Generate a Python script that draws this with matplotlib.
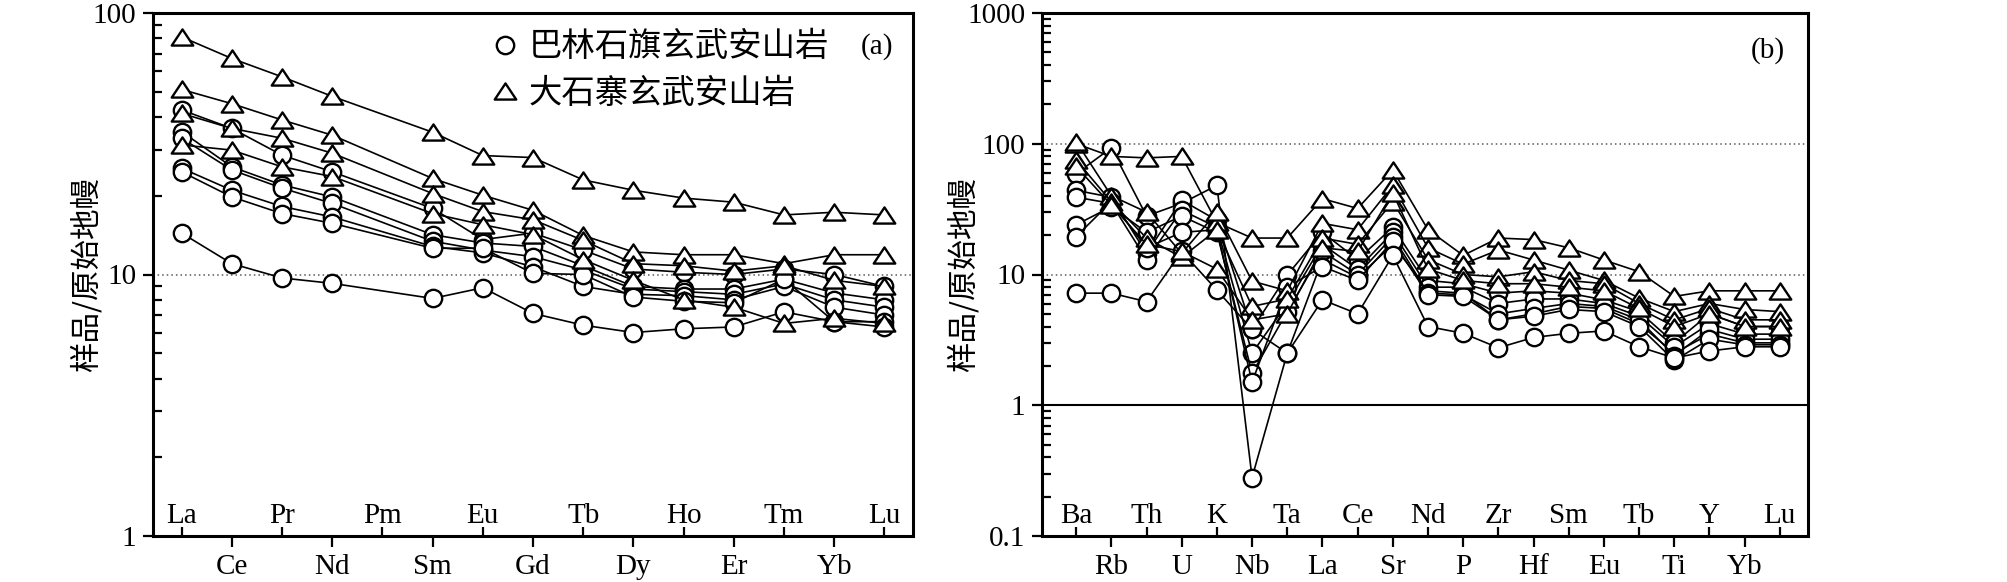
import numpy as np
import matplotlib.pyplot as plt
from matplotlib.path import Path
from matplotlib.lines import Line2D
from matplotlib.ticker import LogLocator, NullFormatter

plt.rcParams['font.family'] = ['Liberation Serif', 'Noto Sans CJK SC']

nan = np.nan

# ---- (a) chondrite-normalised REE ----
ree = ['La', 'Ce', 'Pr', 'Nd', 'Pm', 'Sm', 'Eu', 'Gd', 'Tb', 'Dy', 'Ho', 'Er', 'Tm', 'Yb', 'Lu']

# 巴林石旗 samples (circles), Pm not analysed
ree_blsq = [
    [42.6, 36.2, 28.6, 24.7, nan, 17.9, 13.6, 14.4, 12.4, 10.5, 10.2, 10.0, 10.5, 10.0, 9.0],
    [35.2, 25.8, 22.0, 19.8, nan, 14.2, 13.2, 12.8, 10.8, 9.0, 8.8, 8.8, 9.6, 8.5, 8.0],
    [33.2, 25.1, 21.4, 18.7, nan, 13.4, 12.4, 11.7, 10.4, 8.8, 8.6, 8.4, 9.2, 8.0, 7.5],
    [25.5, 21.0, 18.2, 16.6, nan, 12.8, 12.1, 10.7, 9.0, 8.4, 8.3, 8.0, 9.0, 7.5, 7.0],
    [24.7, 19.8, 17.1, 15.7, nan, 12.6, 12.6, 10.1, 10.0, 8.2, 7.9, 7.8, 9.6, 6.6, 6.6],
    [14.4, 11.0, 9.7, 9.25, nan, 8.1, 8.9, 7.1, 6.4, 6.0, 6.2, 6.3, 7.2, 6.6, 6.3],
]

# 大石寨 samples (triangles)
ree_dsz = [
    [81, 67, 57, 48, nan, 35, 28.5, 28, 23, 21, 19.6, 18.9, 16.9, 17.3, 16.9],
    [51, 45, 39, 34.1, nan, 23.3, 20.1, 17.6, 14.1, 12.2, 11.9, 11.9, 11.0, 11.9, 11.9],
    [41.3, 36.2, 33.2, 29.1, nan, 20.4, 17.4, 16.2, 13.5, 11.0, 10.8, 10.3, 10.8, 9.5, 9.0],
    [31.3, 29.9, 25.8, 23.7, nan, 17.1, 15.5, 14.2, 11.4, 9.5, 8.0, 7.5, 6.5, 6.8, 6.5],
]

# ---- (b) primitive-mantle-normalised spider ----
spider = ['Ba', 'Rb', 'Th', 'U', 'K', 'Nb', 'Ta', 'La', 'Ce', 'Sr', 'Nd',
          'P', 'Zr', 'Hf', 'Sm', 'Eu', 'Tb', 'Ti', 'Y', 'Yb', 'Lu']

pm_blsq = [
    [59, 93, 28, 35, 48, 0.28, 2.5, 13, 9.5, 17, 7.5, 7.2, 4.5, 5.0, 5.7, 5.5, 4.2, 2.5, 3.5, 3.0, 3.0],
    [44, 39, 14.5, 37, 26, 3.8, 9.9, 21, 13, 23, 9.0, 8.5, 7.2, 7.5, 7.2, 6.4, 5.2, 3.0, 5.0, 4.0, 4.0],
    [39, 35, 13, 31, 23, 2.5, 6.0, 17, 11, 21, 8.0, 8.0, 6.0, 6.5, 6.5, 6.0, 4.8, 2.8, 4.2, 3.5, 3.5],
    [24, 33, 21, 28, 21, 1.75, 5.2, 15, 10, 19.5, 7.2, 7.0, 5.0, 5.5, 6.0, 5.7, 4.5, 2.4, 3.8, 3.2, 3.2],
    [19.5, 36, 16, 21, 22, 1.5, 8.0, 11.5, 9.0, 18, 7.0, 6.8, 4.5, 4.8, 5.4, 5.2, 4.0, 2.2, 3.2, 2.9, 2.9],
    [7.2, 7.2, 6.2, 15, 7.6, 3.8, 2.5, 6.4, 5.0, 14, 4.0, 3.55, 2.75, 3.3, 3.55, 3.7, 2.8, 2.3, 2.6, 2.8, 2.8],
]

pm_dsz = [
    [100, 80, 78, 80, 25, 19, 19, 38, 32, 63, 22, 14, 19, 18.5, 16, 12.9, 10.5, 6.8, 7.5, 7.5, 7.5],
    [104, 40, 30, 14.5, 30, 8.9, 7.5, 24.6, 22, 48, 16, 12, 15.4, 12.9, 10.8, 9.0, 6.6, 5.2, 6.0, 5.4, 5.2],
    [75, 36, 19, 13.5, 22, 5.7, 6.5, 19, 17, 36, 13, 10, 9.6, 10.5, 9.0, 8.5, 6.0, 4.5, 5.5, 4.5, 4.5],
    [67, 34, 17, 15, 11, 4.5, 5.0, 16, 15, 42, 11, 9.0, 8.5, 8.5, 8.0, 7.5, 5.5, 4.0, 5.0, 4.0, 4.0],
]

legend_labels = ['巴林石旗玄武安山岩', '大石寨玄武安山岩']

# wide open triangle like the original figure
tri = Path([(-1, -0.75), (1, -0.75), (0, 0.75), (-1, -0.75)],
           [Path.MOVETO, Path.LINETO, Path.LINETO, Path.CLOSEPOLY])

circ_style = dict(marker='o', ms=12.5, mew=1.7, mfc='white', mec='k',
                  color='k', lw=1.2)
tri_style = dict(marker=tri, ms=15.5, mew=1.7, mfc='white', mec='k',
                 color='k', lw=1.2)


def draw_series(ax, rows, style):
    for row in rows:
        y = np.array(row, dtype=float)
        x = np.arange(len(y))
        ok = ~np.isnan(y)
        ax.plot(x[ok], y[ok], **style)


def style_axes(ax, names, ylo, yhi):
    ax.set_yscale('log')
    ax.set_ylim(ylo, yhi)
    for s in ax.spines.values():
        s.set_linewidth(2.2)
    idx = np.arange(len(names))
    # odd elements below the axis, even ones inside above it
    ax.set_xticks(idx[1::2], [names[i] for i in idx[1::2]])
    ax.set_xticks(idx[0::2], [names[i] for i in idx[0::2]], minor=True)
    ax.tick_params(axis='x', which='major', direction='out', length=8,
                   width=1.6, pad=5, labelsize=21)
    ax.tick_params(axis='x', which='minor', direction='in', length=6.5,
                   width=1.6, pad=-24, labelsize=21)
    ax.yaxis.set_major_locator(LogLocator(base=10))
    ax.yaxis.set_minor_locator(LogLocator(base=10, subs=np.arange(2, 10)))
    ax.yaxis.set_minor_formatter(NullFormatter())
    ax.yaxis.set_major_formatter(plt.FuncFormatter(lambda v, p: f'{v:g}'))
    ax.tick_params(axis='y', which='major', direction='out', length=7,
                   width=1.6, pad=5, labelsize=21)
    ax.tick_params(axis='y', which='minor', direction='in', length=6.5,
                   width=1.6)
    ax.set_ylabel('样品/原始地幔', family=['Noto Sans CJK SC'], fontsize=22)


fig = plt.figure(figsize=(20.08, 5.82), dpi=100)
ax1 = fig.add_axes([153 / 2008, 46 / 582, 760 / 2008, 523 / 582])
ax2 = fig.add_axes([1042 / 2008, 46 / 582, 766 / 2008, 523 / 582])

# panel a
ax1.axhline(10, color='0.35', lw=1.1, ls=(0, (1, 2)), zorder=0)
draw_series(ax1, ree_blsq, circ_style)
draw_series(ax1, ree_dsz, tri_style)
style_axes(ax1, ree, 1, 100)
ax1.set_xlim(-0.57, 14.57)
ax1.yaxis.set_label_coords(-0.067, 0.5)
h = [Line2D([], [], ls='none', **{k: v for k, v in circ_style.items() if k not in ('color', 'lw')}),
     Line2D([], [], ls='none', **{k: v for k, v in tri_style.items() if k not in ('color', 'lw')})]
ax1.legend(h, legend_labels, loc='upper left', bbox_to_anchor=(0.4417, 0.9688),
           frameon=False, borderpad=0, borderaxespad=0,
           handlelength=1.0, handletextpad=0.2, labelspacing=0.35,
           prop={'family': ['Noto Sans CJK SC'], 'size': 24})
ax1.text(0.9526, 0.935, '(a)', transform=ax1.transAxes, ha='center',
         va='center', fontsize=21)

# panel b
ax2.axhline(10, color='0.35', lw=1.1, ls=(0, (1, 2)), zorder=0)
ax2.axhline(100, color='0.35', lw=1.1, ls=(0, (1, 2)), zorder=0)
ax2.axhline(1, color='k', lw=1.5, zorder=0)
draw_series(ax2, pm_blsq, circ_style)
draw_series(ax2, pm_dsz, tri_style)
style_axes(ax2, spider, 0.1, 1000)
ax2.set_xlim(-0.97, 20.8)
ax2.yaxis.set_label_coords(-0.082, 0.5)
ax2.text(0.948, 0.929, '(b)', transform=ax2.transAxes, ha='center',
         va='center', fontsize=21)

fig.savefig('out.png', dpi=100)
